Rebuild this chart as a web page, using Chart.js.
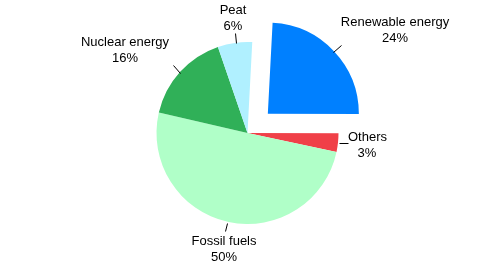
<!DOCTYPE html>
<html>
<head>
<meta charset="utf-8">
<script src="https://cdn.jsdelivr.net/npm/chart.js@4"></script>
<style>
  html, body { margin: 0; padding: 0; background: #fff; }
  #wrap { width: 495px; height: 266px; }
</style>
</head>
<body>
<div id="wrap"><canvas id="mycanvas"></canvas></div>
<script>
// data (clockwise from the top)
var categories = ['Renewable energy', 'Others', 'Fossil fuels', 'Nuclear energy', 'Peat'];
var shares = [24.2, 3.3, 50.3, 16.1, 6.1];
var shareLabels = ['24%', '3%', '50%', '16%', '6%'];
var colours = ['#0080ff', '#f04048', '#b0ffc8', '#30b058', '#b0f0ff'];

// label placement: text anchor + leader line
var labelPos = [
  {x: 395, y: 22, align: 'center', line: [333, 52, 341, 45]},
  {x: 348, y: 137, align: 'left', x2: 367, line: [339, 143, 348, 143]},
  {x: 224, y: 241, align: 'center', line: [227, 223, 225, 231]},
  {x: 125, y: 42, align: 'center', line: [173, 65, 180, 73]},
  {x: 233, y: 10, align: 'center', line: [235, 33, 236, 43]}
];

var labelPlugin = {
  id: 'pieLabels',
  afterDraw: function(chart) {
    var ctx = chart.ctx;
    ctx.save();
    ctx.font = '13px "Liberation Sans", Arial, sans-serif';
    ctx.fillStyle = '#000';
    ctx.strokeStyle = '#000';
    ctx.lineWidth = 1;
    ctx.textBaseline = 'middle';
    for (var i = 0; i < categories.length; i++) {
      var p = labelPos[i];
      ctx.textAlign = p.align;
      ctx.fillText(categories[i], p.x, p.y);
      ctx.textAlign = 'center';
      ctx.fillText(shareLabels[i], p.x2 || p.x, p.y + 16);
      ctx.beginPath();
      ctx.moveTo(p.line[0] + 0.5, p.line[1] + 0.5);
      ctx.lineTo(p.line[2] + 0.5, p.line[3] + 0.5);
      ctx.stroke();
    }
    ctx.restore();
  }
};

var ctx = document.getElementById('mycanvas');

// chart.js draws an arc at offset/4 from the centre, so 112 -> ~28px
var pieChart = new Chart(ctx, {
  type: 'pie',
  data: {
    labels: categories,
    datasets: [{
      data: shares,
      backgroundColor: colours,
      borderWidth: 0,
      offset: [112, 0, 0, 0, 0],
      hoverOffset: 0
    }]
  },
  options: {
    responsive: true,
    maintainAspectRatio: false,
    animation: false,
    rotation: 3,
    radius: 91,
    layout: { padding: 0 },
    plugins: {
      legend: { display: false },
      tooltip: { enabled: false }
    }
  },
  plugins: [labelPlugin]
});
</script>
</body>
</html>
